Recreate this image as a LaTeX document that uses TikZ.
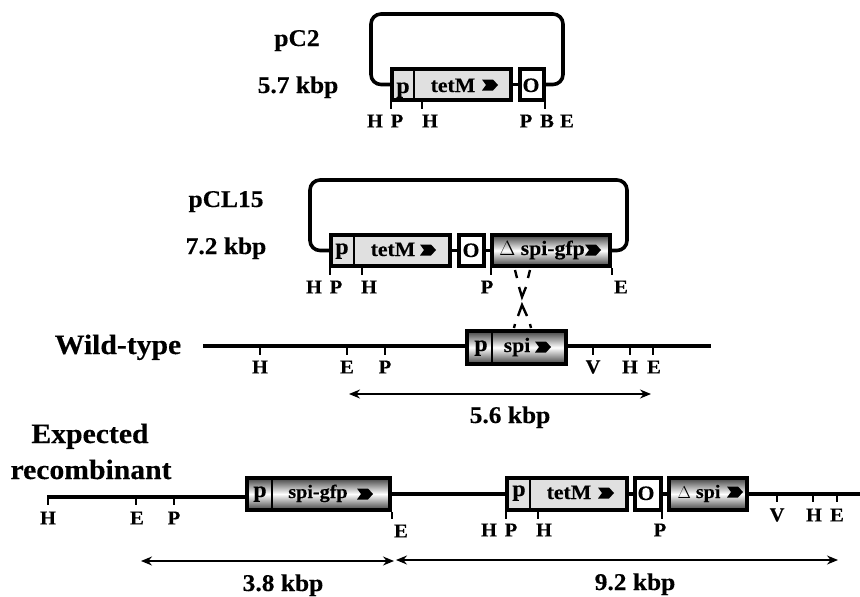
\documentclass[tikz,border=0pt]{standalone}
\usepackage{fontspec}
\setmainfont[FakeStretch=1.06,BoldFeatures={FakeBold=0.3}]{Liberation Serif}
\usetikzlibrary{arrows.meta}
\definecolor{genegray}{gray}{0.88}
\tikzset{
  x=1pt,y=-1pt,
  gene/.style={draw=black,line width=3.8pt,inner sep=0pt,outer sep=0pt,anchor=north west},
  plain/.style={gene,fill=genegray},
  whitebox/.style={gene,fill=white},
  shadebox/.style={gene,top color=black!75,bottom color=black!75,middle color=white,shading angle=0},
  intxt/.style={font=\bfseries\fontsize{20.5}{21}\selectfont,inner sep=0pt,anchor=base},
  ptxt/.style={font=\bfseries\fontsize{22.5}{23}\selectfont,inner sep=0pt,anchor=base},
  smalltxt/.style={font=\bfseries\fontsize{19}{19}\selectfont,inner sep=0pt,anchor=base},
  divider/.style={line width=2.2pt},
  dna/.style={line width=3.6pt},
  loopline/.style={dna,rounded corners=10pt},
  ticks/.style={line width=1.8pt},
  span/.style={line width=1.4pt,{Stealth[length=11pt,width=9pt]}-{Stealth[length=11pt,width=9pt]}},
  site/.style={font=\bfseries\fontsize{19.5}{20}\selectfont,inner sep=0pt},
  head/.style={font=\bfseries\fontsize{24}{24}\selectfont,inner sep=0pt,anchor=base},
  big/.style={font=\bfseries\fontsize{28}{28}\selectfont,inner sep=0pt,anchor=base},
  cross/.style={line width=2.4pt}
}
\newcommand{\gbox}[6]{\node[#6,minimum width={#4-#2-3.8},minimum height={#5-#3-3.8}] (#1) at (#2+1.9,#3+1.9) {};}
\newcommand{\chev}[2]{\fill[black] (#1-8,#2-5.5) -- (#1+3,#2-5.5) -- (#1+8,#2) -- (#1+3,#2+5.5) -- (#1-8,#2+5.5) -- (#1-4,#2) -- cycle;}
\newcommand{\tck}[3]{\draw[ticks] (#1,#2) -- (#1,#3);}
\begin{document}
\begin{tikzpicture}
\useasboundingbox (0,0) rectangle (860,597);
% pC2
\gbox{aB}{390}{67}{513}{102}{plain}
\gbox{aO}{518}{67}{546}{102}{whitebox}
\draw[divider] (414,67) -- (414,102);
\node[ptxt] (aPt) at (403,93) {p};
\node[intxt] (aTt) at (453,92) {tetM};
\node[intxt] (aOt) at (531,92) {O};
\draw[dna] (aB.east) -- (aO.west);
\draw[loopline] (aB.west) -| (371,14) -| (563,84.5) -- (aO.east);
\chev{490}{85}
\tck{391}{102}{109}\tck{422}{102}{109}\tck{545}{102}{109}
\node[head] (a1) at (297,46) {pC2};
\node[head] (a2) at (298,93) {5.7 kbp};
\node[site] (a3) at (375,121) {H};
\node[site] (a4) at (397,121) {P};
\node[site] (a5) at (430,121) {H};
\node[site] (a6) at (526,121) {P};
\node[site] (a7) at (547,121) {B};
\node[site] (a8) at (567,121) {E};
% pCL15
\gbox{bB}{329}{233}{452}{268}{plain}
\gbox{bO}{457}{233}{486}{268}{whitebox}
\gbox{bS}{490}{233}{612}{268}{shadebox}
\draw[divider] (354,233) -- (354,268);
\node[ptxt] (bPt) at (342,254) {p};
\node[intxt] (bTt) at (393,256) {tetM};
\node[intxt] (bOt) at (471,257) {O};
\node[intxt] (bSt) at (542,255) {$\Delta$ spi-gfp};
\draw[dna] (bB.east) -- (bO.west);
\draw[dna] (bO.east) -- (bS.west);
\draw[loopline] (bB.west) -| (310,180) -| (627,250.5) -- (bS.east);
\chev{428}{250}
\chev{593}{250}
\tck{330}{268}{275}\tck{362}{268}{275}\tck{491}{268}{275}\tck{612}{268}{275}
\node[head] (b1) at (226,207) {pCL15};
\node[head] (b2) at (226,254) {7.2 kbp};
\node[site] (b3) at (314,287) {H};
\node[site] (b4) at (336,287) {P};
\node[site] (b5) at (369,287) {H};
\node[site] (b6) at (487,287) {P};
\node[site] (b7) at (621,287) {E};
\draw[cross] (515,270) -- (517,278);
\draw[cross] (530,270) -- (528,278);
\draw[cross] (519,287) -- (522,297) -- (526,287);
\draw[cross] (518,316) -- (522,305) -- (527,316);
\draw[cross] (515,324) -- (514,328);
\draw[cross] (530,324) -- (531,328);
% Wild-type
\gbox{cB}{465}{329}{568}{366}{shadebox}
\draw[divider] (492,329) -- (492,366);
\node[ptxt] (cPt) at (481,351) {p};
\node[intxt] (cSt) at (517,352) {spi};
\coordinate (cL) at (203,346);
\coordinate (cR) at (711,346);
\draw[dna] (cL) -- (cB.west |- cL);
\draw[dna] (cB.east |- cR) -- (cR);
\chev{543}{347}
\tck{260}{346}{355}\tck{347}{346}{355}\tck{385}{346}{355}\tck{593}{346}{355}\tck{630}{346}{355}\tck{653}{346}{355}
\node[big] (c1) at (118,354) {Wild-type};
\node[site] (c2) at (260,367) {H};
\node[site] (c3) at (347,367) {E};
\node[site] (c4) at (385,367) {P};
\node[site] (c5) at (593,367) {V};
\node[site] (c6) at (630,367) {H};
\node[site] (c7) at (654,367) {E};
\coordinate (c8) at (349,394);
\coordinate (c9) at (651,394);
\draw[span] (c8) -- (c9);
\node[head] (c10) at (510,423) {5.6 kbp};
% Expected recombinant
\gbox{dB}{245}{476}{392}{512}{shadebox}
\gbox{eB}{505}{476}{629}{512}{plain}
\gbox{eO}{633}{476}{663}{512}{whitebox}
\gbox{eS}{667}{476}{749}{512}{shadebox}
\draw[divider] (272,476) -- (272,512);
\draw[divider] (530,476) -- (530,512);
\node[ptxt] (dPt) at (260,497) {p};
\node[smalltxt] (dSt) at (318,498) {spi-gfp};
\node[ptxt] (ePt) at (519,496) {p};
\node[intxt] (eTt) at (569,499) {tetM};
\node[intxt] (eOt) at (646,500) {O};
\node[smalltxt] (eSt) at (699,498) {$\Delta$ spi};
\coordinate (dL) at (47,497);
\coordinate (dR) at (860,494);
\draw[dna] (dL) -- (dB.west |- dL);
\draw[dna] (dB.east) -- (eB.west);
\draw[dna] (eB.east) -- (eO.west);
\draw[dna] (eO.east) -- (eS.west);
\draw[dna] (eS.east |- dR) -- (dR);
\chev{365}{494}
\chev{606}{493}
\chev{735}{492}
\tck{48}{497}{505}\tck{136}{497}{505}\tck{174}{497}{505}
\tck{392}{512}{519}\tck{506}{512}{519}\tck{538}{512}{519}\tck{662}{512}{519}
\tck{777}{494}{502}\tck{813}{494}{502}\tck{837}{494}{502}
\node[big] (d1) at (90,443) {Expected};
\node[big] (d2) at (91,479) {recombinant};
\node[site] (d3) at (48,518) {H};
\node[site] (d4) at (137,518) {E};
\node[site] (d5) at (174,518) {P};
\node[site] (d6) at (401,531) {E};
\node[site] (d7) at (489,530) {H};
\node[site] (d8) at (511,530) {P};
\node[site] (d9) at (544,530) {H};
\node[site] (d10) at (660,530) {P};
\node[site] (d11) at (777,515) {V};
\node[site] (d12) at (814,515) {H};
\node[site] (d13) at (837,515) {E};
\coordinate (d14) at (141,561);
\coordinate (d15) at (394,561);
\coordinate (d16) at (396,560);
\coordinate (d17) at (838,560);
\draw[span] (d14) -- (d15);
\draw[span] (d16) -- (d17);
\node[head] (d18) at (283,591) {3.8 kbp};
\node[head] (d19) at (635,590) {9.2 kbp};
\end{tikzpicture}
\end{document}
